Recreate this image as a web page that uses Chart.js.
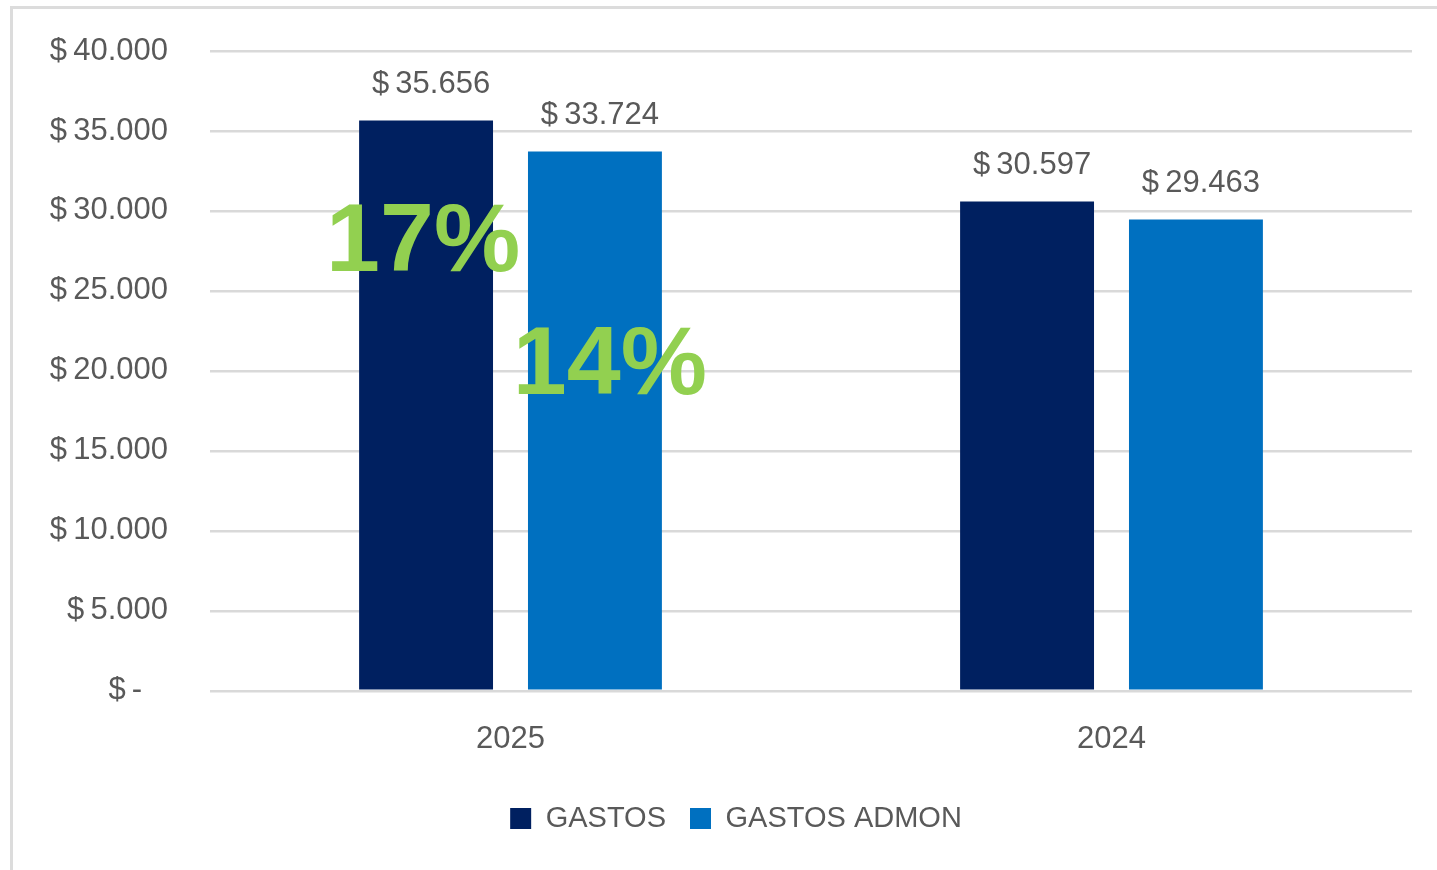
<!DOCTYPE html>
<html>
<head>
<meta charset="utf-8">
<script src="https://cdn.jsdelivr.net/npm/chart.js@4.4.1/dist/chart.umd.min.js"></script>
<style>
  html, body { margin: 0; padding: 0; background: #fff; }
  #wrap { position: relative; width: 1437px; height: 870px; overflow: hidden; }
  #frame { position: absolute; left: 10px; top: 6px; width: 1500px; height: 1000px;
           border-top: 3px solid #dcdcdc; border-left: 3px solid #dcdcdc; }
  #myChart { position: absolute; left: 0; top: 0; }
</style>
</head>
<body>
<div id="wrap">
  <div id="frame"></div>
  <canvas id="myChart" width="1437" height="870"></canvas>
</div>
<script>
(function () {
    'use strict'

    var categories = ['2025', '2024']
    var gastos = [35656, 30597]
    var gastosAdmon = [33724, 29463]
    var seriesNames = ['GASTOS', 'GASTOS ADMON']
    var pctLabels = ['17%', '14%']

    var fontFamily = '"Liberation Sans", Arial, sans-serif'
    var textColor = '#595959'

    function money(v) {
        if (v === 0) return '$\u2009-   '
        return '$\u2009' + v.toLocaleString('de-DE')
    }

    // value labels above each bar
    var valueLabels = {
        id: 'valueLabels',
        afterDatasetsDraw: function (chart) {
            var c = chart.ctx
            c.save()
            c.font = '31px ' + fontFamily
            c.fillStyle = textColor
            c.textAlign = 'center'
            c.textBaseline = 'middle'
            chart.data.datasets.forEach(function (ds, i) {
                chart.getDatasetMeta(i).data.forEach(function (bar, j) {
                    c.fillText(money(ds.data[j]), bar.x + 5, bar.y - 36)
                })
            })
            c.restore()
        }
    }

    // big green percentages over the 2025 bars
    var pctText = {
        id: 'pctText',
        afterDatasetsDraw: function (chart) {
            var c = chart.ctx
            c.save()
            c.font = 'bold 97px ' + fontFamily
            c.fillStyle = '#92D050'
            c.textAlign = 'center'
            c.textBaseline = 'middle'
            var spots = [{ dx: -3, dy: 124 }, { dx: 15, dy: 216 }]
            pctLabels.forEach(function (t, i) {
                var bar = chart.getDatasetMeta(i).data[0]
                c.fillText(t, bar.x + spots[i].dx, bar.y + spots[i].dy)
            })
            c.restore()
        }
    }

    // nudge the legend a bit to the right, like the original
    var legendShift = {
        id: 'legendShift',
        afterLayout: function (chart) {
            if (chart.legend) chart.legend.left += 60
        }
    }

    var ctx = document.getElementById('myChart')
    // eslint-disable-next-line no-unused-vars
    var myChart = new Chart(ctx, {
        type: 'bar',
        data: {
            labels: categories,
            datasets: [{
                label: seriesNames[0],
                data: gastos,
                backgroundColor: '#002060',
                categoryPercentage: 0.562,
                barPercentage: 0.793
            }, {
                label: seriesNames[1],
                data: gastosAdmon,
                backgroundColor: '#0070C0',
                categoryPercentage: 0.562,
                barPercentage: 0.793
            }]
        },
        plugins: [valueLabels, pctText, legendShift],
        options: {
            responsive: false,
            animation: false,
            layout: {
                padding: { top: 51, right: 25, left: 0, bottom: 27 }
            },
            scales: {
                x: {
                    grid: { display: false },
                    border: { display: false },
                    ticks: {
                        color: textColor,
                        font: { size: 31, family: fontFamily },
                        padding: 22
                    }
                },
                y: {
                    min: 0,
                    max: 40000,
                    afterFit: function (s) {
                        s.width = 210
                        s.paddingTop = 0
                        s.paddingBottom = 0
                    },
                    grid: { color: '#d9d9d9', lineWidth: 2.5, drawTicks: false },
                    border: { display: false },
                    ticks: {
                        stepSize: 5000,
                        color: textColor,
                        font: { size: 31, family: fontFamily },
                        padding: 42,
                        callback: function (v) { return money(v) }
                    }
                }
            },
            plugins: {
                legend: {
                    position: 'bottom',
                    labels: {
                        color: textColor,
                        font: { size: 29, family: fontFamily },
                        boxWidth: 21,
                        boxHeight: 21,
                        padding: 24
                    }
                },
                tooltip: { enabled: false }
            }
        }
    })
})()
</script>
</body>
</html>
